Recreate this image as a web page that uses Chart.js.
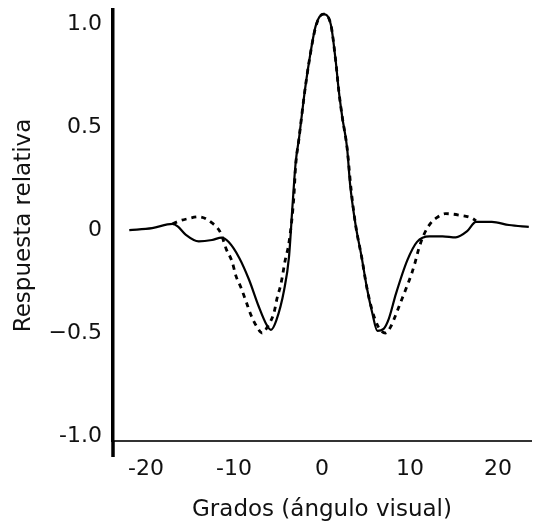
<!DOCTYPE html>
<html>
<head>
<meta charset="utf-8">
<script src="https://cdn.jsdelivr.net/npm/chart.js@4.4.1/dist/chart.umd.min.js"></script>
<style>
  html, body { margin: 0; padding: 0; background: #fff; }
  #wrap { width: 536px; height: 524px; }
</style>
</head>
<body>
<div id="wrap"><canvas id="chart" width="536" height="524"></canvas></div>
<script>
// grados (ángulo visual) y respuesta relativa
const solidX = [-21.9, -19.3, -17.0, -16.4, -15.5, -14.0, -12.5, -11.4, -10.6, -9.4, -8.3, -7.2, -6.3, -5.8, -5.2, -4.3, -3.75, -3.35, -3.0, -2.6, -2.05, -1.5, -0.7, 0.15, 1.0, 1.55, 1.9, 2.3, 2.85, 3.2, 3.8, 4.5, 5.1, 5.7, 6.3, 7.0, 7.6, 8.4, 9.7, 10.8, 12.2, 13.7, 15.2, 16.5, 17.5, 19.3, 21.25, 23.5];
const solidY = [0.0, 0.01, 0.03, 0.018, -0.022, -0.055, -0.048, -0.036, -0.058, -0.135, -0.24, -0.37, -0.46, -0.485, -0.44, -0.29, -0.13, 0.12, 0.325, 0.45, 0.645, 0.81, 0.995, 1.05, 1.0, 0.825, 0.68, 0.55, 0.40, 0.22, 0.03, -0.13, -0.28, -0.40, -0.49, -0.48, -0.43, -0.31, -0.146, -0.057, -0.03, -0.03, -0.035, -0.005, 0.04, 0.04, 0.025, 0.016];

const dashX = [-17.0, -16.2, -15.3, -14.0, -12.5, -11.5, -10.9, -10.2, -9.8, -9.2, -8.6, -8.1, -7.4, -6.8, -6.2, -5.45, -5.1, -4.66, -4.2, -3.75, -3.2, -3.0, -2.6, -2.05, -1.5, -0.7, 0.15, 1.0, 1.55, 1.9, 2.3, 2.85, 3.3, 3.8, 4.5, 5.1, 5.7, 6.4, 7.2, 7.8, 8.4, 8.9, 9.5, 10.2, 10.6, 11.0, 11.6, 12.35, 13.2, 14.05, 15.6, 17.05, 17.5];
const dashY = [0.03, 0.045, 0.055, 0.065, 0.035, -0.015, -0.09, -0.155, -0.22, -0.28, -0.35, -0.41, -0.47, -0.5, -0.47, -0.40, -0.33, -0.26, -0.15, -0.06, 0.16, 0.31, 0.45, 0.645, 0.81, 0.99, 1.05, 1.0, 0.825, 0.68, 0.55, 0.40, 0.2, 0.03, -0.13, -0.28, -0.39, -0.47, -0.5, -0.47, -0.41, -0.355, -0.29, -0.21, -0.154, -0.09, -0.02, 0.034, 0.065, 0.08, 0.073, 0.058, 0.045];

const xTicks = [-20, -10, 0, 10, 20];
const xTickLabels = ['-20', '-10', '0', '10', '20'];
const yTicks = [-1, -0.5, 0, 0.5, 1];
const yTickLabels = ['-1.0', '\u22120.5', '0', '0.5', '1.0'];

const FONT = 'DejaVu Sans';

function pts(xs, ys) { return xs.map((x, i) => ({ x: x, y: ys[i] })); }

// el eje vertical sigue un poco por debajo del eje horizontal
const axisTail = {
    id: 'axisTail',
    afterDraw(chart) {
        const ctx = chart.ctx, a = chart.chartArea;
        ctx.save();
        ctx.strokeStyle = '#000';
        ctx.lineWidth = 3.5;
        ctx.beginPath();
        ctx.moveTo(a.left, a.bottom);
        ctx.lineTo(a.left, a.bottom + 16);
        ctx.stroke();
        ctx.restore();
    }
};

new Chart(document.getElementById('chart'), {
    type: 'line',
    data: {
        datasets: [{
            data: pts(dashX, dashY),
            borderColor: '#000',
            borderWidth: 2.8,
            borderDash: [5, 5],
            pointRadius: 0,
            cubicInterpolationMode: 'monotone',
            fill: false,
        }, {
            data: pts(solidX, solidY),
            borderColor: '#000',
            borderWidth: 2.2,
            pointRadius: 0,
            cubicInterpolationMode: 'monotone',
            fill: false,
        }]
    },
    options: {
        responsive: false,
        animation: false,
        layout: { padding: { left: 0, right: 5, top: 10, bottom: 0 } },
        plugins: { legend: { display: false }, tooltip: { enabled: false } },
        scales: {
            x: {
                type: 'linear',
                min: -23.75,
                max: 23.75,
                afterBuildTicks: s => { s.ticks = xTicks.map(v => ({ value: v })); },
                afterFit: s => { s.height = 83; s.paddingLeft = 0; s.paddingRight = 0; },
                grid: { display: false, drawTicks: false },
                border: { display: true, color: '#333', width: 2 },
                ticks: {
                    padding: 15,
                    color: '#111',
                    font: { family: FONT, size: 22 },
                    maxRotation: 0,
                    callback: v => xTickLabels[xTicks.indexOf(v)],
                },
                title: {
                    display: true,
                    text: 'Grados (ángulo visual)',
                    color: '#111',
                    font: { family: FONT, size: 23 },
                    padding: { top: 4, bottom: 0 },
                }
            },
            y: {
                type: 'linear',
                min: -1.025,
                max: 1.07,
                afterBuildTicks: s => { s.ticks = yTicks.map(v => ({ value: v })); },
                afterFit: s => { s.width = 113; s.paddingTop = 0; s.paddingBottom = 0; },
                grid: { display: false, drawTicks: false },
                border: { display: true, color: '#000', width: 3.5 },
                ticks: {
                    padding: 11,
                    color: '#111',
                    font: { family: FONT, size: 22 },
                    callback: v => yTickLabels[yTicks.indexOf(v)],
                },
                title: {
                    display: true,
                    text: 'Respuesta relativa',
                    color: '#111',
                    font: { family: FONT, size: 23 },
                    padding: { top: 10, bottom: 0 },
                }
            }
        }
    },
    plugins: [axisTail]
});
</script>
</body>
</html>
